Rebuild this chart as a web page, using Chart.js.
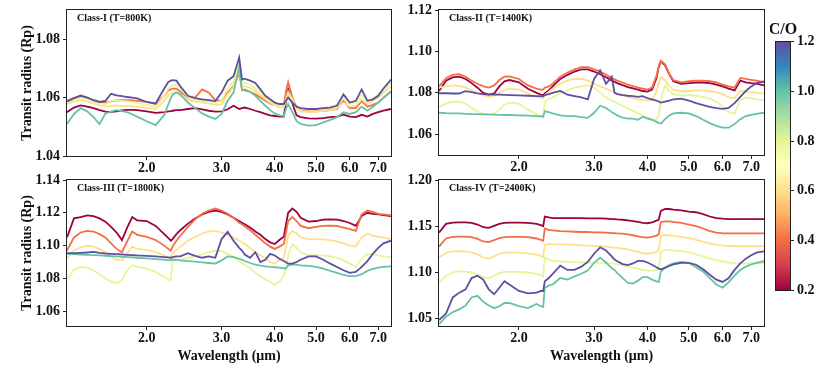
<!DOCTYPE html>
<html>
<head>
<meta charset="utf-8">
<script src="https://cdn.jsdelivr.net/npm/chart.js@4.4.1/dist/chart.umd.min.js"></script>
<style>
  html, body { margin: 0; padding: 0; background: #fff; }
  #wrap { position: relative; width: 830px; height: 369px; overflow: hidden; }
  canvas { position: absolute; }
</style>
</head>
<body>
<div id="wrap">
  <canvas id="p1" width="400" height="175" style="left:0;top:0"></canvas>
  <canvas id="p2" width="370" height="175" style="left:400px;top:0"></canvas>
  <canvas id="p3" width="400" height="199" style="left:0;top:170px"></canvas>
  <canvas id="p4" width="370" height="199" style="left:400px;top:170px"></canvas>
  <canvas id="cbar" width="60" height="290" style="left:770px;top:15px"></canvas>
</div>
<script>
// wavelength grid (micron) shared by all spectra
const WAVELENGTH = [
  1.30, 1.35, 1.40, 1.45, 1.50, 1.55, 1.60, 1.65, 1.70, 1.75, 1.80, 1.85, 1.90,
  2.00, 2.10, 2.20, 2.25, 2.28, 2.30, 2.35, 2.40,
  2.50, 2.60, 2.70, 2.80, 2.90, 3.00, 3.10, 3.20, 3.30, 3.35, 3.40,
  3.50, 3.60, 3.70, 3.80, 3.90, 4.00, 4.10, 4.20, 4.25, 4.30, 4.40, 4.50, 4.60,
  4.80, 5.00, 5.20, 5.40, 5.60, 5.80, 6.00, 6.20, 6.40, 6.60, 6.80, 7.00, 7.20, 7.50
];
const CO_RATIOS = [0.2, 0.4, 0.6, 0.8, 1.0, 1.2];
const X_TICKS = [2, 3, 4, 5, 6, 7];
const CBAR_TICKS = [0.2, 0.4, 0.6, 0.8, 1.0, 1.2];

// Class-I (T=800K)
const CLASS1_CO02 = [
  1.0550, 1.0566, 1.0573, 1.0569, 1.0564, 1.0557, 1.0552, 1.0551, 1.0553, 1.0556, 1.0558, 1.0558, 1.0557,
  1.0553, 1.0548, 1.0550, 1.0553, 1.0554, 1.0555, 1.0557, 1.0557,
  1.0561, 1.0564, 1.0560, 1.0555, 1.0552, 1.0553, 1.0560, 1.0572, 1.0561, 1.0564, 1.0566,
  1.0561, 1.0555, 1.0550, 1.0544, 1.0539, 1.0537, 1.0535, 1.0535, 1.0589, 1.0628, 1.0580, 1.0539, 1.0533,
  1.0529, 1.0528, 1.0530, 1.0533, 1.0535, 1.0542, 1.0535, 1.0533, 1.0541, 1.0535, 1.0544, 1.0550, 1.0555, 1.0561
];
const CLASS1_CO04 = [
  1.0589, 1.0598, 1.0608, 1.0600, 1.0591, 1.0585, 1.0583, 1.0587, 1.0591, 1.0591, 1.0591, 1.0590, 1.0589,
  1.0585, 1.0578, 1.0606, 1.0625, 1.0628, 1.0631, 1.0631, 1.0620,
  1.0600, 1.0600, 1.0628, 1.0617, 1.0591, 1.0589, 1.0617, 1.0639, 1.0684, 1.0628, 1.0625,
  1.0620, 1.0611, 1.0600, 1.0589, 1.0580, 1.0575, 1.0569, 1.0575, 1.0621, 1.0653, 1.0600, 1.0566, 1.0557,
  1.0553, 1.0553, 1.0555, 1.0557, 1.0561, 1.0589, 1.0564, 1.0564, 1.0589, 1.0569, 1.0575, 1.0583, 1.0600, 1.0620
];
const CLASS1_CO06 = [
  1.0578, 1.0587, 1.0591, 1.0587, 1.0580, 1.0574, 1.0569, 1.0571, 1.0573, 1.0572, 1.0571, 1.0570, 1.0569,
  1.0564, 1.0561, 1.0589, 1.0609, 1.0613, 1.0617, 1.0617, 1.0606,
  1.0591, 1.0587, 1.0583, 1.0580, 1.0575, 1.0577, 1.0611, 1.0636, 1.0695, 1.0636, 1.0639,
  1.0633, 1.0622, 1.0609, 1.0594, 1.0583, 1.0575, 1.0569, 1.0566, 1.0594, 1.0620, 1.0594, 1.0561, 1.0553,
  1.0550, 1.0552, 1.0555, 1.0557, 1.0564, 1.0583, 1.0569, 1.0572, 1.0594, 1.0577, 1.0589, 1.0600, 1.0617, 1.0639
];
const CLASS1_CO08 = [
  1.0583, 1.0593, 1.0600, 1.0596, 1.0587, 1.0580, 1.0577, 1.0589, 1.0591, 1.0589, 1.0587, 1.0585, 1.0582,
  1.0575, 1.0569, 1.0606, 1.0631, 1.0638, 1.0642, 1.0645, 1.0631,
  1.0602, 1.0593, 1.0589, 1.0587, 1.0582, 1.0589, 1.0631, 1.0656, 1.0712, 1.0650, 1.0651,
  1.0645, 1.0631, 1.0616, 1.0600, 1.0589, 1.0580, 1.0573, 1.0571, 1.0589, 1.0609, 1.0589, 1.0564, 1.0559,
  1.0559, 1.0561, 1.0564, 1.0569, 1.0575, 1.0600, 1.0580, 1.0583, 1.0611, 1.0587, 1.0596, 1.0609, 1.0628, 1.0650
];
const CLASS1_CO10 = [
  1.0510, 1.0544, 1.0564, 1.0553, 1.0533, 1.0509, 1.0545, 1.0553, 1.0557, 1.0554, 1.0550, 1.0543, 1.0535,
  1.0519, 1.0506, 1.0540, 1.0578, 1.0598, 1.0609, 1.0618, 1.0611,
  1.0583, 1.0564, 1.0546, 1.0535, 1.0527, 1.0544, 1.0589, 1.0617, 1.0706, 1.0625, 1.0628,
  1.0620, 1.0606, 1.0589, 1.0572, 1.0557, 1.0546, 1.0539, 1.0537, 1.0561, 1.0578, 1.0550, 1.0519, 1.0510,
  1.0504, 1.0506, 1.0515, 1.0524, 1.0533, 1.0550, 1.0544, 1.0550, 1.0569, 1.0555, 1.0569, 1.0583, 1.0598, 1.0622
];
const CLASS1_CO12 = [
  1.0587, 1.0598, 1.0606, 1.0600, 1.0591, 1.0585, 1.0589, 1.0613, 1.0608, 1.0605, 1.0602, 1.0600, 1.0597,
  1.0585, 1.0580, 1.0631, 1.0654, 1.0658, 1.0660, 1.0658, 1.0639,
  1.0606, 1.0598, 1.0594, 1.0591, 1.0588, 1.0617, 1.0658, 1.0673, 1.0737, 1.0662, 1.0665,
  1.0658, 1.0650, 1.0628, 1.0606, 1.0594, 1.0583, 1.0578, 1.0578, 1.0589, 1.0600, 1.0583, 1.0569, 1.0564,
  1.0561, 1.0561, 1.0564, 1.0566, 1.0572, 1.0611, 1.0583, 1.0589, 1.0628, 1.0589, 1.0594, 1.0606, 1.0631, 1.0662
];

// Class-II (T=1400K)
const CLASS2_CO02 = [
  1.0809, 1.0859, 1.0875, 1.0878, 1.0867, 1.0847, 1.0825, 1.0800, 1.0792, 1.0797, 1.0831, 1.0856, 1.0862,
  1.0851, 1.0820, 1.0800, 1.0792, 1.0789, 1.0797, 1.0812, 1.0831,
  1.0867, 1.0887, 1.0903, 1.0913, 1.0913, 1.0903, 1.0890, 1.0875, 1.0859, 1.0853, 1.0847,
  1.0837, 1.0828, 1.0822, 1.0816, 1.0809, 1.0806, 1.0816, 1.0870, 1.0924, 1.0952, 1.0933, 1.0890, 1.0856,
  1.0844, 1.0847, 1.0850, 1.0850, 1.0847, 1.0840, 1.0831, 1.0820, 1.0812, 1.0859, 1.0851, 1.0847, 1.0844, 1.0836
];
const CLASS2_CO04 = [
  1.0831, 1.0871, 1.0887, 1.0890, 1.0878, 1.0859, 1.0844, 1.0831, 1.0825, 1.0836, 1.0862, 1.0878, 1.0880,
  1.0867, 1.0836, 1.0820, 1.0816, 1.0816, 1.0825, 1.0831, 1.0844,
  1.0878, 1.0898, 1.0913, 1.0924, 1.0924, 1.0913, 1.0903, 1.0887, 1.0871, 1.0865, 1.0859,
  1.0850, 1.0840, 1.0833, 1.0825, 1.0820, 1.0816, 1.0825, 1.0882, 1.0929, 1.0955, 1.0938, 1.0890, 1.0862,
  1.0851, 1.0856, 1.0859, 1.0859, 1.0856, 1.0851, 1.0840, 1.0831, 1.0825, 1.0872, 1.0867, 1.0863, 1.0859, 1.0851
];
const CLASS2_CO06 = [
  1.0825, 1.0831, 1.0836, 1.0834, 1.0825, 1.0812, 1.0800, 1.0789, 1.0781, 1.0786, 1.0800, 1.0815, 1.0820,
  1.0816, 1.0797, 1.0781, 1.0777, 1.0775, 1.0789, 1.0805, 1.0820,
  1.0844, 1.0859, 1.0867, 1.0867, 1.0859, 1.0844, 1.0831, 1.0820, 1.0809, 1.0803, 1.0797,
  1.0789, 1.0781, 1.0775, 1.0770, 1.0766, 1.0763, 1.0766, 1.0805, 1.0845, 1.0876, 1.0861, 1.0831, 1.0816,
  1.0809, 1.0809, 1.0812, 1.0812, 1.0809, 1.0803, 1.0794, 1.0778, 1.0774, 1.0809, 1.0805, 1.0803, 1.0800, 1.0797
];
const CLASS2_CO08 = [
  1.0732, 1.0748, 1.0757, 1.0758, 1.0748, 1.0727, 1.0711, 1.0699, 1.0693, 1.0701, 1.0719, 1.0743, 1.0753,
  1.0748, 1.0719, 1.0696, 1.0688, 1.0685, 1.0758, 1.0769, 1.0778,
  1.0797, 1.0812, 1.0825, 1.0831, 1.0836, 1.0825, 1.0800, 1.0778, 1.0763, 1.0757, 1.0750,
  1.0738, 1.0725, 1.0713, 1.0701, 1.0691, 1.0682, 1.0673, 1.0670, 1.0690, 1.0770, 1.0836, 1.0809, 1.0794,
  1.0787, 1.0789, 1.0787, 1.0781, 1.0772, 1.0758, 1.0735, 1.0707, 1.0701, 1.0766, 1.0778, 1.0774, 1.0769, 1.0766
];
const CLASS2_CO10 = [
  1.0704, 1.0702, 1.0701, 1.0701, 1.0699, 1.0697, 1.0697, 1.0696, 1.0696, 1.0695, 1.0694, 1.0693, 1.0693,
  1.0691, 1.0690, 1.0688, 1.0686, 1.0685, 1.0711, 1.0707, 1.0701,
  1.0691, 1.0688, 1.0688, 1.0683, 1.0679, 1.0704, 1.0738, 1.0727, 1.0707, 1.0699, 1.0691,
  1.0680, 1.0676, 1.0676, 1.0670, 1.0685, 1.0676, 1.0670, 1.0660, 1.0654, 1.0652, 1.0673, 1.0691, 1.0701,
  1.0704, 1.0701, 1.0688, 1.0670, 1.0654, 1.0641, 1.0632, 1.0632, 1.0649, 1.0673, 1.0688, 1.0694, 1.0699, 1.0704
];
const CLASS2_CO12 = [
  1.0798, 1.0798, 1.0797, 1.0797, 1.0808, 1.0804, 1.0798, 1.0794, 1.0792, 1.0792, 1.0791, 1.0790, 1.0789,
  1.0788, 1.0786, 1.0784, 1.0784, 1.0783, 1.0789, 1.0794, 1.0800,
  1.0809, 1.0791, 1.0784, 1.0778, 1.0769, 1.0867, 1.0909, 1.0844, 1.0878, 1.0800, 1.0794,
  1.0789, 1.0786, 1.0784, 1.0781, 1.0784, 1.0774, 1.0769, 1.0763, 1.0758, 1.0753, 1.0758, 1.0763, 1.0769,
  1.0772, 1.0763, 1.0750, 1.0741, 1.0732, 1.0726, 1.0723, 1.0727, 1.0750, 1.0781, 1.0809, 1.0831, 1.0847, 1.0855
];

// Class-III (T=1800K)
const CLASS3_CO02 = [
  1.1050, 1.1166, 1.1174, 1.1184, 1.1180, 1.1166, 1.1146, 1.1114, 1.1080, 1.1034, 1.1110, 1.1174, 1.1154,
  1.1150, 1.1120, 1.1070, 1.1046, 1.1030, 1.1040, 1.1070, 1.1094,
  1.1134, 1.1166, 1.1190, 1.1206, 1.1214, 1.1206, 1.1190, 1.1170, 1.1150, 1.1140, 1.1130,
  1.1110, 1.1086, 1.1066, 1.1040, 1.1020, 1.1010, 1.1034, 1.1054, 1.1130, 1.1200, 1.1226, 1.1206, 1.1170,
  1.1146, 1.1150, 1.1158, 1.1160, 1.1158, 1.1150, 1.1138, 1.1120, 1.1180, 1.1200, 1.1194, 1.1190, 1.1186, 1.1180
];
const CLASS3_CO04 = [
  1.0970, 1.1050, 1.1080, 1.1090, 1.1086, 1.1070, 1.1050, 1.1014, 1.0980, 1.0960, 1.1026, 1.1086, 1.1066,
  1.1054, 1.1034, 1.1000, 1.0980, 1.0970, 1.0994, 1.1030, 1.1060,
  1.1114, 1.1160, 1.1194, 1.1214, 1.1226, 1.1214, 1.1194, 1.1170, 1.1140, 1.1130, 1.1118,
  1.1094, 1.1066, 1.1040, 1.1014, 1.0994, 1.0980, 1.0994, 1.1010, 1.1080, 1.1150, 1.1174, 1.1150, 1.1120,
  1.1106, 1.1114, 1.1120, 1.1122, 1.1120, 1.1110, 1.1100, 1.1090, 1.1190, 1.1214, 1.1206, 1.1194, 1.1190, 1.1184
];
const CLASS3_CO06 = [
  1.0920, 1.0970, 1.0990, 1.1000, 1.0994, 1.0980, 1.0960, 1.0934, 1.0914, 1.0910, 1.0954, 1.0994, 1.0980,
  1.0974, 1.0960, 1.0940, 1.0926, 1.0920, 1.0950, 1.0974, 1.0994,
  1.1030, 1.1054, 1.1074, 1.1086, 1.1090, 1.1080, 1.1066, 1.1050, 1.1030, 1.1020, 1.1010,
  1.0986, 1.0960, 1.0940, 1.0926, 1.0900, 1.0890, 1.0914, 1.0926, 1.0990, 1.1060, 1.1090, 1.1074, 1.1050,
  1.1040, 1.1040, 1.1038, 1.1034, 1.1026, 1.1014, 1.1002, 1.0994, 1.1050, 1.1074, 1.1060, 1.1054, 1.1050, 1.1040
];
const CLASS3_CO08 = [
  1.0790, 1.0854, 1.0870, 1.0866, 1.0850, 1.0826, 1.0800, 1.0780, 1.0770, 1.0790, 1.0850, 1.0880, 1.0870,
  1.0860, 1.0840, 1.0810, 1.0794, 1.0790, 1.0910, 1.0914, 1.0914,
  1.0926, 1.0934, 1.0946, 1.0960, 1.0970, 1.0966, 1.0950, 1.0930, 1.0906, 1.0894, 1.0882,
  1.0860, 1.0834, 1.0814, 1.0794, 1.0780, 1.0760, 1.0780, 1.0814, 1.0870, 1.0940, 1.1010, 1.0986, 1.0960,
  1.0940, 1.0940, 1.0940, 1.0935, 1.0926, 1.0910, 1.0890, 1.0870, 1.0920, 1.0950, 1.0946, 1.0940, 1.0934, 1.0930
];
const CLASS3_CO10 = [
  1.0950, 1.0948, 1.0946, 1.0944, 1.0942, 1.0940, 1.0938, 1.0936, 1.0934, 1.0932, 1.0930, 1.0928, 1.0926,
  1.0922, 1.0918, 1.0914, 1.0912, 1.0910, 1.0914, 1.0914, 1.0910,
  1.0906, 1.0902, 1.0898, 1.0894, 1.0890, 1.0910, 1.0934, 1.0930, 1.0920, 1.0914, 1.0906,
  1.0894, 1.0884, 1.0878, 1.0874, 1.0870, 1.0868, 1.0866, 1.0862, 1.0860, 1.0880, 1.0886, 1.0884, 1.0880,
  1.0876, 1.0870, 1.0860, 1.0846, 1.0834, 1.0822, 1.0814, 1.0814, 1.0826, 1.0846, 1.0858, 1.0866, 1.0870, 1.0874
];
const CLASS3_CO12 = [
  1.0954, 1.0954, 1.0956, 1.0958, 1.0962, 1.0956, 1.0952, 1.0950, 1.0948, 1.0946, 1.0944, 1.0942, 1.0940,
  1.0938, 1.0934, 1.0930, 1.0928, 1.0926, 1.0930, 1.0934, 1.0934,
  1.0954, 1.0938, 1.0926, 1.0934, 1.0926, 1.1040, 1.1084, 1.1030, 1.0986, 1.0970, 1.0946,
  1.0926, 1.0960, 1.0900, 1.0914, 1.0950, 1.0940, 1.0920, 1.0906, 1.0898, 1.0890, 1.0890, 1.0900, 1.0914,
  1.0934, 1.0934, 1.0914, 1.0890, 1.0870, 1.0850, 1.0834, 1.0840, 1.0870, 1.0906, 1.0950, 1.0986, 1.1014, 1.1030
];

// Class-IV (T=2400K)
const CLASS4_CO02 = [
  1.1430, 1.1525, 1.1539, 1.1542, 1.1542, 1.1535, 1.1518, 1.1489, 1.1482, 1.1504, 1.1525, 1.1535, 1.1539,
  1.1539, 1.1535, 1.1525, 1.1511, 1.1500, 1.1605, 1.1595, 1.1588,
  1.1588, 1.1588, 1.1588, 1.1588, 1.1584, 1.1584, 1.1584, 1.1581, 1.1577, 1.1577, 1.1574,
  1.1570, 1.1563, 1.1556, 1.1546, 1.1535, 1.1532, 1.1542, 1.1560, 1.1570, 1.1665, 1.1686, 1.1686, 1.1679,
  1.1672, 1.1658, 1.1651, 1.1630, 1.1605, 1.1588, 1.1581, 1.1577, 1.1577, 1.1577, 1.1577, 1.1577, 1.1577, 1.1577
];
const CLASS4_CO04 = [
  1.1279, 1.1367, 1.1384, 1.1388, 1.1388, 1.1381, 1.1363, 1.1335, 1.1328, 1.1349, 1.1370, 1.1381, 1.1384,
  1.1384, 1.1381, 1.1367, 1.1353, 1.1342, 1.1475, 1.1461, 1.1454,
  1.1447, 1.1444, 1.1440, 1.1437, 1.1437, 1.1433, 1.1433, 1.1430, 1.1426, 1.1426, 1.1423,
  1.1419, 1.1412, 1.1402, 1.1391, 1.1381, 1.1377, 1.1384, 1.1398, 1.1412, 1.1546, 1.1553, 1.1553, 1.1546,
  1.1535, 1.1518, 1.1500, 1.1475, 1.1447, 1.1430, 1.1423, 1.1423, 1.1423, 1.1423, 1.1423, 1.1423, 1.1423, 1.1423
];
const CLASS4_CO06 = [
  1.1160, 1.1213, 1.1227, 1.1230, 1.1227, 1.1216, 1.1195, 1.1160, 1.1149, 1.1174, 1.1202, 1.1213, 1.1216,
  1.1213, 1.1206, 1.1192, 1.1178, 1.1167, 1.1300, 1.1307, 1.1307,
  1.1304, 1.1300, 1.1297, 1.1293, 1.1290, 1.1286, 1.1283, 1.1279, 1.1272, 1.1269, 1.1265,
  1.1258, 1.1248, 1.1237, 1.1223, 1.1209, 1.1202, 1.1209, 1.1223, 1.1237, 1.1395, 1.1405, 1.1402, 1.1395,
  1.1384, 1.1370, 1.1353, 1.1332, 1.1314, 1.1300, 1.1290, 1.1286, 1.1283, 1.1283, 1.1283, 1.1283, 1.1283, 1.1283
];
const CLASS4_CO08 = [
  1.0887, 1.0964, 1.0999, 1.1013, 1.1009, 1.0999, 1.0974, 1.0946, 1.0939, 1.0967, 1.0992, 1.1006, 1.1009,
  1.1006, 1.0999, 1.0985, 1.0971, 1.0957, 1.1160, 1.1139, 1.1125,
  1.1118, 1.1114, 1.1111, 1.1107, 1.1107, 1.1104, 1.1104, 1.1100, 1.1097, 1.1093, 1.1090,
  1.1079, 1.1065, 1.1051, 1.1037, 1.1027, 1.1020, 1.1020, 1.1027, 1.1034, 1.1220, 1.1244, 1.1244, 1.1237,
  1.1230, 1.1216, 1.1195, 1.1174, 1.1149, 1.1132, 1.1118, 1.1107, 1.1100, 1.1097, 1.1097, 1.1097, 1.1097, 1.1097
];
const CLASS4_CO10 = [
  1.0440, 1.0519, 1.0571, 1.0599, 1.0641, 1.0729, 1.0746, 1.0683, 1.0641, 1.0613, 1.0634, 1.0669, 1.0669,
  1.0634, 1.0613, 1.0659, 1.0634, 1.0627, 1.0834, 1.0859, 1.0869,
  1.0939, 1.0922, 1.0957, 1.0985, 1.1020, 1.1104, 1.1160, 1.1107, 1.1044, 1.1027, 1.0992,
  1.0939, 1.0887, 1.0880, 1.0911, 1.0950, 1.0950, 1.0922, 1.0904, 1.0897, 1.1009, 1.1055, 1.1079, 1.1097,
  1.1114, 1.1104, 1.1055, 1.1009, 1.0939, 1.0869, 1.0834, 1.0894, 1.0964, 1.1027, 1.1062, 1.1086, 1.1104, 1.1121
];
const CLASS4_CO12 = [
  1.0484, 1.0554, 1.0729, 1.0781, 1.0817, 1.0939, 1.0964, 1.0922, 1.0817, 1.0764, 1.0834, 1.0904, 1.0869,
  1.0799, 1.0774, 1.0781, 1.0799, 1.0799, 1.0904, 1.0939, 1.0985,
  1.1072, 1.1027, 1.1027, 1.1062, 1.1114, 1.1202, 1.1272, 1.1237, 1.1174, 1.1139, 1.1121,
  1.1090, 1.1079, 1.1097, 1.1125, 1.1125, 1.1107, 1.1083, 1.1055, 1.1041, 1.1034, 1.1048, 1.1069, 1.1086,
  1.1104, 1.1104, 1.1083, 1.1034, 1.0974, 1.0922, 1.0897, 1.0939, 1.1027, 1.1097, 1.1149, 1.1185, 1.1213, 1.1227
];

// matplotlib "Spectral" colormap, C/O 0.2 -> 1.2
const SPECTRAL = ['#9e0142', '#d53e4f', '#f46d43', '#fdae61', '#fee08b', '#ffffbf',
                  '#e6f598', '#abdda4', '#66c2a5', '#3288bd', '#5e4fa2'];
const coColor = co => SPECTRAL[Math.round((co - 0.2) * 10)];

const SERIF = "'Liberation Serif', 'DejaVu Serif', serif";
const tickFont = { family: SERIF, size: 14, weight: 'bold', lineHeight: 1 };
const titleFont = { family: SERIF, size: 14, weight: 'bold' };

// draws the box around the plot area plus the little panel label
const framePlugin = {
  id: 'frame',
  afterDraw(chart, args, opts) {
    const { ctx, chartArea: a } = chart;
    ctx.save();
    ctx.strokeStyle = '#222';
    ctx.lineWidth = 1;
    ctx.strokeRect(Math.round(a.left) - 0.5, Math.round(a.top) - 0.5,
                   Math.round(a.right - a.left) + 1, Math.round(a.bottom - a.top) + 1);
    if (opts.label) {
      ctx.fillStyle = '#111';
      ctx.font = `bold ${opts.labelSize || 10}px ${SERIF}`;
      ctx.textBaseline = 'middle';
      ctx.textAlign = opts.labelAlign || 'left';
      ctx.fillText(opts.label, a.left + opts.labelDx, a.top + opts.labelDy);
    }
    ctx.restore();
  }
};

const panels = [
  { id: 'p1', label: 'Class-I (T=800K)', yMin: 1.04, yMax: 1.09, yTicks: [1.04, 1.06, 1.08],
    series: [CLASS1_CO02, CLASS1_CO04, CLASS1_CO06, CLASS1_CO08, CLASS1_CO10, CLASS1_CO12],
    padding: { top: 7, right: 9 }, yWidth: 67, xHeight: 19, yTitle: true, xTitle: false },
  { id: 'p2', label: 'Class-II (T=1400K)', yMin: 1.05, yMax: 1.12, yTicks: [1.06, 1.08, 1.10, 1.12],
    series: [CLASS2_CO02, CLASS2_CO04, CLASS2_CO06, CLASS2_CO08, CLASS2_CO10, CLASS2_CO12],
    padding: { top: 7, right: 6 }, yWidth: 39, xHeight: 20, yTitle: false, xTitle: false },
  { id: 'p3', label: 'Class-III (T=1800K)', yMin: 1.051, yMax: 1.14, yTicks: [1.06, 1.08, 1.10, 1.12, 1.14],
    series: [CLASS3_CO02, CLASS3_CO04, CLASS3_CO06, CLASS3_CO08, CLASS3_CO10, CLASS3_CO12],
    padding: { top: 8, right: 9 }, yWidth: 67, xHeight: 43, yTitle: true, xTitle: true },
  { id: 'p4', label: 'Class-IV (T=2400K)', yMin: 1.042, yMax: 1.20, yTicks: [1.05, 1.10, 1.15, 1.20],
    series: [CLASS4_CO02, CLASS4_CO04, CLASS4_CO06, CLASS4_CO08, CLASS4_CO10, CLASS4_CO12],
    padding: { top: 8, right: 6 }, yWidth: 39, xHeight: 43, yTitle: false, xTitle: true },
];

panels.forEach(p => {
  new Chart(document.getElementById(p.id), {
    type: 'line',
    data: {
      datasets: p.series.map((values, i) => ({
        label: 'C/O = ' + CO_RATIOS[i].toFixed(1),
        data: values.map((y, k) => ({ x: WAVELENGTH[k], y })),
        borderColor: coColor(CO_RATIOS[i]),
        borderWidth: 1.8,
        pointRadius: 0,
        tension: 0,
        order: CO_RATIOS.length - 1 - i, // highest C/O drawn on top
      })),
    },
    options: {
      responsive: false,
      animation: false,
      devicePixelRatio: 1,
      layout: { padding: p.padding },
      plugins: {
        legend: { display: false },
        tooltip: { enabled: false },
        frame: { label: p.label, labelDx: 10, labelDy: 8.5 },
      },
      scales: {
        x: {
          type: 'logarithmic',
          min: 1.3,
          max: 7.5,
          afterBuildTicks: s => { s.ticks = X_TICKS.map(v => ({ value: v })); },
          afterFit: s => { s.height = p.xHeight; },
          ticks: { color: '#111', font: tickFont, padding: 1, autoSkip: false, maxRotation: 0,
                   callback: v => Number(v).toFixed(1) },
          grid: { drawOnChartArea: false, tickLength: 4, color: '#222' },
          border: { display: false },
          title: { display: p.xTitle, text: 'Wavelength (\u03bcm)', color: '#111', font: titleFont,
                   padding: { top: 0, bottom: 4.6 } },
        },
        y: {
          type: 'linear',
          min: p.yMin,
          max: p.yMax,
          afterBuildTicks: s => { s.ticks = p.yTicks.map(v => ({ value: v })); },
          afterFit: s => { s.width = p.yWidth; },
          ticks: { color: '#111', font: tickFont, padding: 3, callback: v => Number(v).toFixed(2) },
          grid: { drawOnChartArea: false, tickLength: 4, color: '#222' },
          border: { display: false },
          title: { display: p.yTitle, text: 'Transit radius (Rp)', color: '#111', font: titleFont,
                   padding: { top: 19, bottom: 0 } },
        },
      },
    },
    plugins: [framePlugin],
  });
});

// colour bar for C/O
new Chart(document.getElementById('cbar'), {
  type: 'bar',
  data: {
    labels: ['C/O'],
    datasets: [{
      data: [[CBAR_TICKS[0], CBAR_TICKS[CBAR_TICKS.length - 1]]],
      barPercentage: 1,
      categoryPercentage: 1,
      borderWidth: 0,
      backgroundColor(ctx) {
        const area = ctx.chart.chartArea;
        if (!area) return SPECTRAL[0];
        const g = ctx.chart.ctx.createLinearGradient(0, area.bottom, 0, area.top);
        SPECTRAL.forEach((c, i) => g.addColorStop(i / (SPECTRAL.length - 1), c));
        return g;
      },
    }],
  },
  options: {
    responsive: false,
    animation: false,
    devicePixelRatio: 1,
    layout: { padding: { left: 6, top: 26.7, bottom: 15, right: 0 } },
    plugins: {
      legend: { display: false },
      tooltip: { enabled: false },
      frame: { label: 'C/O', labelSize: 16, labelAlign: 'center', labelDx: 7, labelDy: -11.5 },
    },
    scales: {
      x: { display: false },
      y: {
        position: 'right',
        min: 0.2,
        max: 1.2,
        afterBuildTicks: s => { s.ticks = CBAR_TICKS.map(v => ({ value: v })); },
        afterFit: s => { s.width = 40; },
        ticks: { color: '#111', font: tickFont, padding: 3, callback: v => Number(v).toFixed(1) },
        grid: { drawOnChartArea: false, tickLength: 4, color: '#222' },
        border: { display: false },
      },
    },
  },
  plugins: [framePlugin],
});
</script>
</body>
</html>
